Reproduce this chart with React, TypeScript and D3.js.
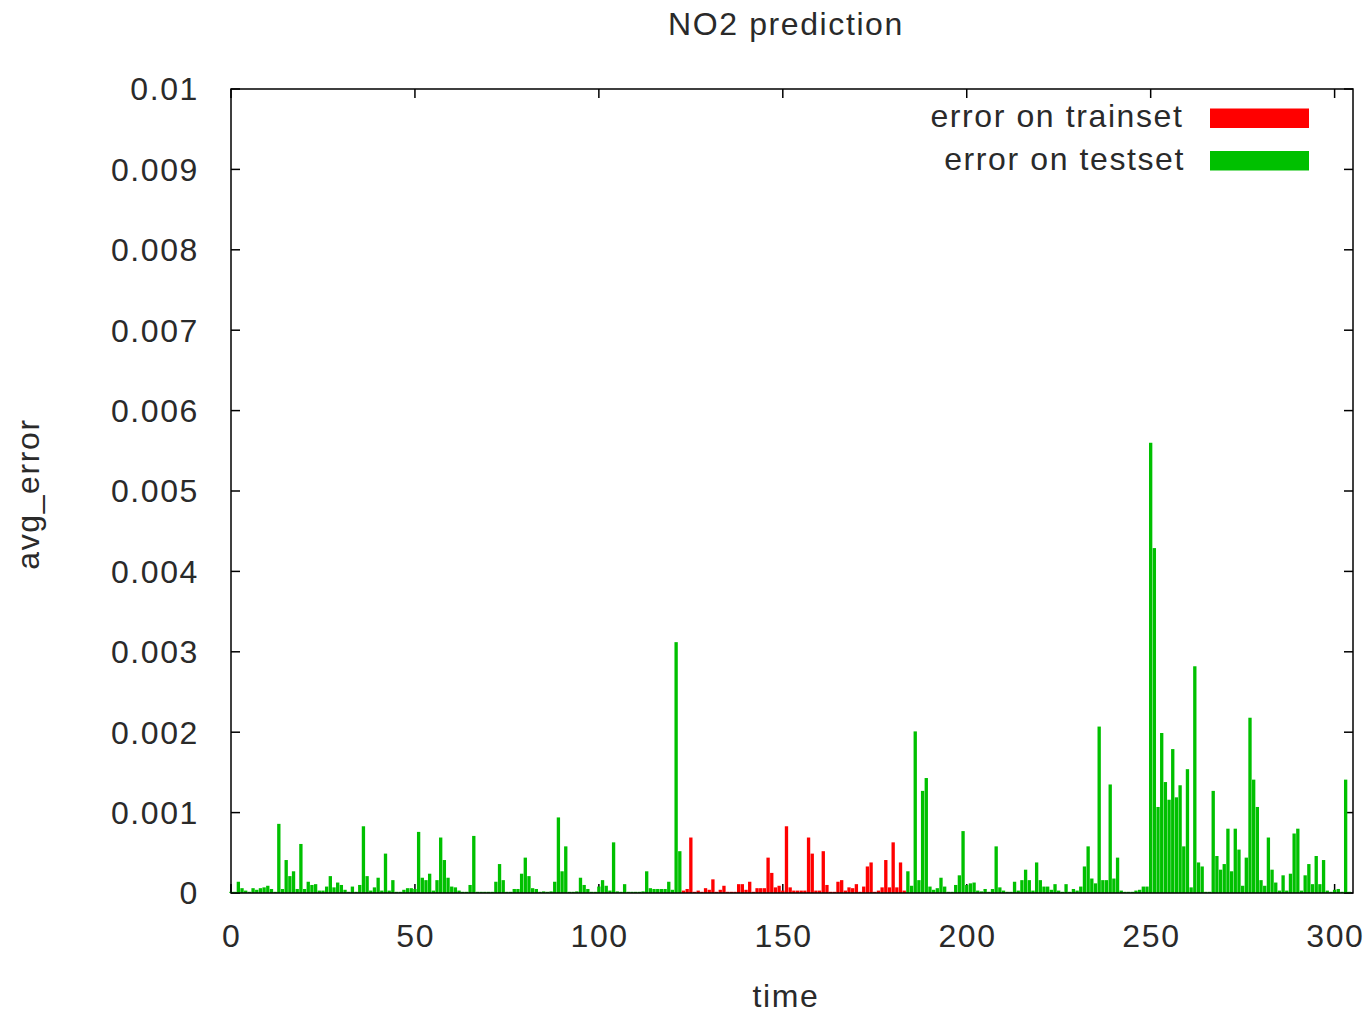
import React from "react";
import * as d3 from "d3";

// avg_error, test set, time = 0 .. 122
const testErrorPart1: number[] = [
  0, 0.00001, 0.00014, 0.00006, 0.00003, 0, 0.00006, 0.00004, 0.00006, 0.00007,
  0.00009, 0.00005, 0.00001, 0.00086, 0.00005, 0.00041, 0.00021, 0.00027, 0.00005, 0.00061,
  0.00005, 0.00014, 0.0001, 0.00011, 0.00003, 0.00003, 0.00008, 0.00021, 0.00007, 0.00013,
  0.0001, 0.00004, 0.00001, 0.00008, 0.00001, 0.0001, 0.00083, 0.00021, 0.00003, 0.00007,
  0.00019, 0.00003, 0.00049, 0.00003, 0.00016, 0.00001, 0.00001, 0.00004, 0.00006, 0.00006,
  0.00005, 0.00076, 0.00019, 0.00016, 0.00024, 0.00003, 0.00016, 0.00069, 0.00041, 0.00019,
  0.00008, 0.00007, 0.00003, 0, 0, 0.0001, 0.00071, 0, 0, 0,
  0, 0, 0.00014, 0.00036, 0.00016, 0, 0, 0.00005, 0.00005, 0.00024,
  0.00044, 0.00021, 0.00006, 0.00005, 0.00001, 0.00002, 0.00001, 0.00002, 0.00014, 0.00094,
  0.00027, 0.00058, 0, 0.00001, 0.00002, 0.00019, 0.0001, 0.00005, 0, 0,
  0.00008, 0.00016, 0.00009, 0.00003, 0.00063, 0.00002, 0, 0.00011, 0, 0,
  0, 0, 0.00002, 0.00027, 0.00006, 0.00005, 0.00005, 0.00005, 0.00005, 0.00014,
  0.00004, 0.00312, 0.00052,
];
const testStart1 = 0;

// avg_error, train set, time = 123 .. 183
const trainError: number[] = [
  0.00003, 0.00005, 0.00069, 0, 0.00003, 0.00001, 0.00006, 0.00004, 0.00017, 0,
  0.00004, 0.00009, 0, 0, 0, 0.00011, 0.00011, 0.00004, 0.00014, 0,
  0.00006, 0.00006, 0.00006, 0.00044, 0.00025, 0.00007, 0.00009, 0.00003, 0.00083, 0.00007,
  0.00003, 0.00003, 0.00003, 0.00003, 0.00069, 0.00049, 0.00003, 0.00003, 0.00052, 0.0001,
  0, 0, 0.00014, 0.00016, 0.00003, 0.00007, 0.00006, 0.00011, 0, 0.00008,
  0.00033, 0.00038, 0, 0.00003, 0.00007, 0.00041, 0.00007, 0.00063, 0.00007, 0.00038,
  0.00003,
];
const trainStart = 123;

// avg_error, test set, time = 184 .. 304
const testErrorPart2: number[] = [
  0.00027, 0.00009, 0.00201, 0.00016, 0.00127, 0.00143, 0.00008, 0.00004, 0.00006, 0.00019,
  0.00008, 0, 0, 0.0001, 0.00022, 0.00077, 0.0001, 0.00012, 0.00013, 0.00003,
  0.00002, 0.00005, 0, 0.00005, 0.00058, 0.00007, 0.00003, 0, 0, 0.00014,
  0.00003, 0.00016, 0.00029, 0.00016, 0.00003, 0.00038, 0.00016, 0.00008, 0.00008, 0.00004,
  0.00011, 0.00003, 0.00001, 0.00011, 0, 0.00005, 0.00003, 0.00008, 0.00033, 0.00058,
  0.00018, 0.00012, 0.00207, 0.00016, 0.00016, 0.00135, 0.00018, 0.00044, 0.00003, 0,
  0, 0, 0.00003, 0.00004, 0.00008, 0.00008, 0.0056, 0.00429, 0.00107, 0.00199,
  0.00138, 0.00116, 0.00179, 0.00119, 0.00134, 0.00058, 0.00154, 0.00007, 0.00282, 0.00038,
  0.00033, 0, 0, 0.00127, 0.00046, 0.00029, 0.00036, 0.0008, 0.00027, 0.0008,
  0.00054, 0.00009, 0.00044, 0.00218, 0.00141, 0.00107, 0.00016, 0.00009, 0.00069, 0.00029,
  0.00013, 0.00003, 0.00022, 0.00003, 0.00024, 0.00074, 0.0008, 0.00003, 0.00022, 0.00036,
  0.00011, 0.00046, 0.00011, 0.00041, 0.00003, 0, 0.00004, 0.00005, 0, 0.00141,
  0,
];
const testStart2 = 184;

const xTicks = [0, 50, 100, 150, 200, 250, 300];
const xTickLabels = ["0", "50", "100", "150", "200", "250", "300"];
const yTicks = [0, 0.001, 0.002, 0.003, 0.004, 0.005, 0.006, 0.007, 0.008, 0.009, 0.01];
const yTickLabels = ["0", "0.001", "0.002", "0.003", "0.004", "0.005", "0.006", "0.007", "0.008", "0.009", "0.01"];
const xDomain = [0, 305];
const yDomain = [0, 0.01];

const title = "NO2 prediction";
const xLabel = "time";
const yLabel = "avg_error";
const legendLabels = ["error on trainset", "error on testset"];

const RED = "#ff0000";
const GREEN = "#00c000";
const FONT = "'Liberation Sans', Arial, sans-serif";

export default function App() {
  const W = 1370, H = 1013;
  const L = 231, R = 1353, T = 89, B = 893;
  const x = d3.scaleLinear().domain(xDomain).range([L, R]);
  const y = d3.scaleLinear().domain(yDomain).range([B, T]);
  const bw = x(1) - x(0) - 0.35;
  const tickLen = 9;

  const toBars = (vals: number[], start: number, color: string, key: string) =>
    vals.map((v, i) => {
      const t = start + i;
      const top = Math.min(y(v), B - 1.2);
      const h = B - top;
      return <rect key={key + t} x={x(t) - bw / 2} y={top} width={bw} height={h} fill={color} />;
    });

  const textStyle: React.CSSProperties = { fontFamily: FONT, fontSize: 32, letterSpacing: 1.6, fill: "#2a2a2a" };

  return (
    <svg width={W} height={H} style={{ position: "absolute", left: 0, top: 0, background: "#fff" }}>
      <rect x={0} y={0} width={W} height={H} fill="#fff" />
      {/* ticks */}
      {yTicks.map((t) => (
        <g key={"yt" + t}>
          <line x1={L} x2={L + tickLen} y1={y(t)} y2={y(t)} stroke="#000" strokeWidth={1.5} />
          <line x1={R} x2={R - tickLen} y1={y(t)} y2={y(t)} stroke="#000" strokeWidth={1.5} />
        </g>
      ))}
      {xTicks.map((t) => (
        <g key={"xt" + t}>
          <line x1={x(t)} x2={x(t)} y1={B} y2={B - tickLen} stroke="#000" strokeWidth={1.5} />
          <line x1={x(t)} x2={x(t)} y1={T} y2={T + tickLen} stroke="#000" strokeWidth={1.5} />
        </g>
      ))}
      {/* bars */}
      {toBars(testErrorPart1, testStart1, GREEN, "a")}
      {toBars(trainError, trainStart, RED, "r")}
      {toBars(testErrorPart2, testStart2, GREEN, "b")}
      {/* frame */}
      <rect x={L} y={T} width={R - L} height={B - T} fill="none" stroke="#000" strokeWidth={1.5} />
      {/* tick labels */}
      {yTicks.map((t, i) => (
        <text key={"yl" + t} x={199} y={y(t) + 11.3} textAnchor="end" style={textStyle}>
          {yTickLabels[i]}
        </text>
      ))}
      {xTicks.map((t, i) => (
        <text key={"xl" + t} x={x(t) + 0.8} y={947} textAnchor="middle" style={textStyle}>
          {xTickLabels[i]}
        </text>
      ))}
      {/* titles */}
      <text x={786} y={35} textAnchor="middle" style={textStyle}>{title}</text>
      <text x={786} y={1007} textAnchor="middle" style={textStyle}>{xLabel}</text>
      <text transform={`translate(39,494) rotate(-90)`} textAnchor="middle" style={textStyle}>{yLabel}</text>
      {/* legend */}
      <text x={1183.5} y={127} textAnchor="end" style={textStyle}>{legendLabels[0]}</text>
      <rect x={1210} y={108.5} width={99} height={19.5} fill={RED} />
      <text x={1185} y={169.5} textAnchor="end" style={textStyle}>{legendLabels[1]}</text>
      <rect x={1210} y={151} width={99} height={19.5} fill={GREEN} />
    </svg>
  );
}
